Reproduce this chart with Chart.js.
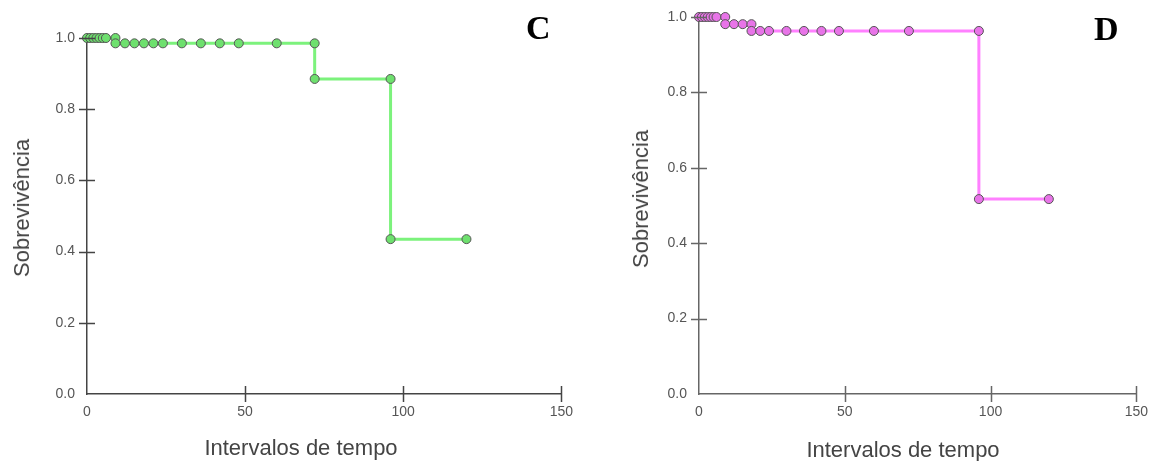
<!DOCTYPE html>
<html>
<head>
<meta charset="utf-8">
<script src="https://cdn.jsdelivr.net/npm/chart.js@4"></script>
<style>
  body { margin: 0; background: #fff; width: 1150px; height: 461px; overflow: hidden; position: relative; font-family: "Liberation Sans", Arial, sans-serif; }
  canvas { position: absolute; top: 0; }
  .xtitle, .ytitle { position: absolute; color: #444; font-size: 22px; white-space: nowrap; }
  .ytitle { transform: translate(-50%, -50%) rotate(-90deg); }
  .xtitle { transform: translate(-50%, -50%); }
  .letter { position: absolute; font-family: "Liberation Serif", "Times New Roman", serif; font-weight: bold; font-size: 34px; color: #000; }
</style>
</head>
<body>
<canvas id="chartC" width="575" height="461" style="left:0"></canvas>
<canvas id="chartD" width="575" height="461" style="left:575px"></canvas>

<div class="ytitle" style="left:22px; top:208px">Sobrevivência</div>
<div class="xtitle" style="left:301px; top:448px">Intervalos de tempo</div>
<div class="letter" style="left:526px; top:9px">C</div>

<div class="ytitle" style="left:641px; top:199px">Sobrevivência</div>
<div class="xtitle" style="left:903px; top:450px">Intervalos de tempo</div>
<div class="letter" style="left:1094px; top:10px">D</div>

<script>
// axis ticks
const xTicks = [0, 50, 100, 150];
const yTicks = [0.0, 0.2, 0.4, 0.6, 0.8, 1.0];

// panel C: step curve (time, survival) and marked points
const cStepTime = [0, 9, 72, 96, 120];
const cStepSurv = [1.0, 0.985, 0.885, 0.435, 0.435];
const cMarkTime = [0, 1, 2, 3, 4, 5, 6, 9, 9, 12, 15, 18, 21, 24, 30, 36, 42, 48, 60, 72, 72, 96, 96, 120];
const cMarkSurv = [1.0, 1.0, 1.0, 1.0, 1.0, 1.0, 1.0, 1.0, 0.985, 0.985, 0.985, 0.985, 0.985, 0.985, 0.985, 0.985, 0.985, 0.985, 0.985, 0.985, 0.885, 0.885, 0.435, 0.435];

// panel D
const dStepTime = [0, 9, 18, 96, 120];
const dStepSurv = [1.0, 0.981, 0.963, 0.517, 0.517];
const dMarkTime = [0, 1, 2, 3, 4, 5, 6, 9, 9, 12, 15, 18, 18, 21, 24, 30, 36, 42, 48, 60, 72, 96, 96, 120];
const dMarkSurv = [1.0, 1.0, 1.0, 1.0, 1.0, 1.0, 1.0, 1.0, 0.981, 0.981, 0.981, 0.981, 0.963, 0.963, 0.963, 0.963, 0.963, 0.963, 0.963, 0.963, 0.963, 0.963, 0.517, 0.517];

function toPoints(xs, ys) {
    return xs.map((x, i) => ({ x: x, y: ys[i] }));
}

// ticks that cross the axis line
const crossTicks = {
    id: 'crossTicks',
    afterDraw(chart) {
        const ctx = chart.ctx;
        const x = chart.scales.x, y = chart.scales.y;
        const area = chart.chartArea;
        ctx.save();
        ctx.strokeStyle = chart.options.axisColor;
        ctx.lineWidth = 1.5;
        ctx.beginPath();
        xTicks.forEach(v => {
            if (v === 0) return;
            const px = Math.round(x.getPixelForValue(v)) + 0.5;
            ctx.moveTo(px, area.bottom - 8);
            ctx.lineTo(px, area.bottom + 8);
        });
        yTicks.forEach(v => {
            if (v === 0) return;
            const py = Math.round(y.getPixelForValue(v)) + 0.5;
            ctx.moveTo(area.left - 8, py);
            ctx.lineTo(area.left + 8, py);
        });
        ctx.stroke();
        ctx.restore();
    }
};

function makeChart(id, opts) {
    const ctx = document.getElementById(id).getContext('2d');
    return new Chart(ctx, {
        type: 'line',
        data: {
            datasets: [{
                data: toPoints(opts.stepTime, opts.stepSurv),
                borderColor: opts.lineColor,
                borderWidth: 3,
                stepped: true,
                pointRadius: 0,
                fill: false,
                clip: false,
                order: 2
            }, {
                data: toPoints(opts.markTime, opts.markSurv),
                showLine: false,
                pointRadius: 4.5,
                pointBackgroundColor: opts.pointColor,
                pointBorderColor: '#555',
                pointBorderWidth: 1,
                clip: false,
                order: 1
            }]
        },
        options: {
            responsive: false,
            animation: false,
            axisColor: opts.axisColor,
            layout: { padding: { top: opts.top, right: opts.right, left: 0, bottom: 0 } },
            plugins: { legend: { display: false }, tooltip: { enabled: false } },
            scales: {
                x: {
                    type: 'linear',
                    min: 0, max: 150,
                    afterFit: s => { s.height = 461 - 394; },
                    afterBuildTicks: s => { s.ticks = xTicks.map(v => ({ value: v })); },
                    grid: { display: false },
                    border: { display: true, color: opts.axisColor, width: 1.5 },
                    ticks: { color: '#555', font: { size: 14, family: '"Liberation Sans", Arial' }, padding: 2, maxRotation: 0 }
                },
                y: {
                    type: 'linear',
                    min: 0, max: 1,
                    afterFit: s => { s.width = opts.yWidth; },
                    afterBuildTicks: s => { s.ticks = yTicks.map(v => ({ value: v })); },
                    grid: { display: false },
                    border: { display: true, color: opts.axisColor, width: 1.5 },
                    ticks: {
                        color: '#555',
                        font: { size: 14, family: '"Liberation Sans", Arial' },
                        padding: 4,
                        callback: v => v.toFixed(1)
                    }
                }
            }
        },
        plugins: [crossTicks]
    });
}

makeChart('chartC', {
    stepTime: cStepTime, stepSurv: cStepSurv,
    markTime: cMarkTime, markSurv: cMarkSurv,
    lineColor: '#7cf27c', pointColor: '#6ee06e', axisColor: '#444',
    top: 38, right: 3, yWidth: 87
});

makeChart('chartD', {
    stepTime: dStepTime, stepSurv: dStepSurv,
    markTime: dMarkTime, markSurv: dMarkSurv,
    lineColor: '#ff80ff', pointColor: '#e874e8', axisColor: '#666',
    top: 17, right: 9, yWidth: 124
});
</script>
</body>
</html>
